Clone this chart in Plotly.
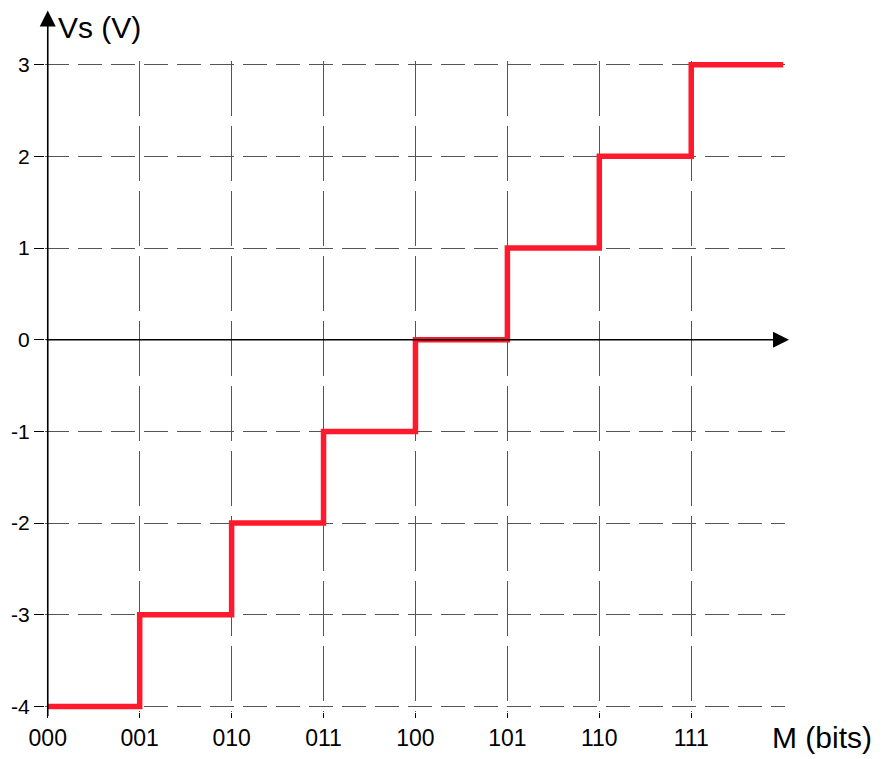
import plotly.graph_objects as go

codes = ["000", "001", "010", "011", "100", "101", "110", "111"]
volts = [-4, -3, -2, -1, 0, 1, 2, 3]
y_ticks = [-4, -3, -2, -1, 0, 1, 2, 3]

xs = list(range(len(codes))) + [len(codes)]
ys = volts + [volts[-1]]

FONT = "Liberation Sans, Arial, sans-serif"

# page body has an 8px margin, so the figure is a bit smaller than the window
fig = go.Figure()
fig.add_trace(go.Scatter(x=xs, y=ys, mode="lines", line_shape="hv",
                         line=dict(color="#fe1a2c", width=5.5), hoverinfo="skip"))

fig.update_layout(
    width=875, height=751,
    margin=dict(l=37, r=98, t=52.5, b=46.5, autoexpand=False),
    paper_bgcolor="white", plot_bgcolor="white",
    showlegend=False,
    font=dict(family=FONT, color="black"),
    xaxis=dict(range=[-0.03, 8.02], tickvals=list(range(len(codes))), ticktext=codes,
               showgrid=True, gridcolor="#555", gridwidth=1, griddash="55px,10px",
               zeroline=False, showline=False, ticks="outside", ticklen=5,
               tickcolor="black", tickfont=dict(size=23), ticklabelstandoff=0,
               automargin=False),
    yaxis=dict(range=[-4.06, 3.04], tickvals=y_ticks, ticktext=[str(v) for v in y_ticks],
               showgrid=True, gridcolor="#555", gridwidth=1, griddash="24px,9px",
               zeroline=False, showline=False, ticks="outside", ticklen=10,
               tickcolor="black", tickfont=dict(size=21), automargin=False),
)

# axes with arrows
fig.add_annotation(x=0, xref="x", y=(712.5 - 10) / 652, yref="paper",
                   ax=0, ay=707, text="", showarrow=True, arrowhead=2,
                   arrowsize=2, arrowwidth=1.6, arrowcolor="black")
fig.add_annotation(x=(789 - 45) / 740, xref="paper", y=0, yref="y",
                   ax=-744, ay=0, text="", showarrow=True, arrowhead=2,
                   arrowsize=2, arrowwidth=1.6, arrowcolor="black")

fig.add_annotation(x=(56 - 45) / 740, xref="paper", y=(712.5 - 27) / 652, yref="paper",
                   text="Vs (V)", showarrow=False, xanchor="left", yanchor="middle",
                   font=dict(size=30))
fig.add_annotation(x=(770 - 45) / 740, xref="paper", y=(712.5 - 738) / 652, yref="paper",
                   text="M (bits)", showarrow=False, xanchor="left", yanchor="middle",
                   font=dict(size=30))

fig.write_html("out.html")
